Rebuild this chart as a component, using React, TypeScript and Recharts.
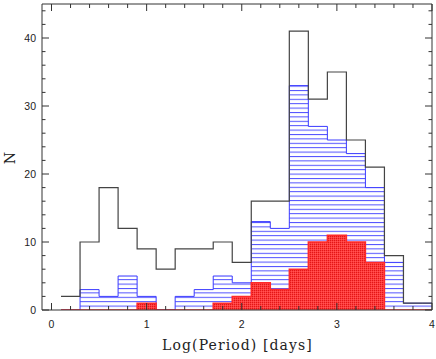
import React from 'react';
import { ComposedChart, Area, XAxis, YAxis, Customized } from 'recharts';

// bin edges in Log(Period), bins are 0.2 dex wide
const binEdges = [0.1, 0.3, 0.5, 0.7, 0.9, 1.1, 1.3, 1.5, 1.7, 1.9, 2.1, 2.3, 2.5, 2.7, 2.9, 3.1, 3.3, 3.5, 3.7, 3.9, 4.1];
const allCounts = [2, 10, 18, 12, 9, 6, 9, 9, 10, 7, 16, 16, 41, 31, 35, 25, 21, 8, 1, 1];
const blueCounts = [0, 3, 2, 5, 2, 0, 2, 3, 5, 4, 13, 12, 33, 27, 25, 23, 18, 7, 1, 1];
const redCounts = [0, 0, 0, 0, 1, 0, 0, 0, 1, 2, 4, 3, 6, 10, 11, 10, 7, 0, 0, 0];

const xTicks = [0, 0.2, 0.4, 0.6, 0.8, 1, 1.2, 1.4, 1.6, 1.8, 2, 2.2, 2.4, 2.6, 2.8, 3, 3.2, 3.4, 3.6, 3.8, 4];
const yTicks = [0, 2, 4, 6, 8, 10, 12, 14, 16, 18, 20, 22, 24, 26, 28, 30, 32, 34, 36, 38, 40, 42, 44];

const n = allCounts.length;
const data = binEdges.map((x, i) => {
  const k = Math.min(i, n - 1);
  return { x, all: allCounts[k], blue: blueCounts[k], red: redCounts[k] };
});

const AXIS = '#333';
const isMajor = (v: number, step: number) => Math.abs(v / step - Math.round(v / step)) < 1e-6;
const tickFont = { fontFamily: 'Liberation Sans, Arial, sans-serif', fontSize: 10.5, fill: '#222' };

const BottomTick = (props: any) => {
  const { x, y, payload } = props;
  const major = isMajor(payload.value, 1);
  return (
    <g>
      <line x1={x} x2={x} y1={y} y2={y - (major ? 7 : 4)} stroke={AXIS} />
      {major && (
        <text x={x} y={y + 18} textAnchor="middle" {...tickFont}>
          {Math.round(payload.value)}
        </text>
      )}
    </g>
  );
};

const TopTick = (props: any) => {
  const { x, y, payload } = props;
  const major = isMajor(payload.value, 1);
  return <line x1={x} x2={x} y1={y} y2={y + (major ? 7 : 4)} stroke={AXIS} />;
};

const LeftTick = (props: any) => {
  const { x, y, payload } = props;
  const major = isMajor(payload.value, 10);
  return (
    <g>
      <line x1={x} x2={x + (major ? 7 : 3.5)} y1={y} y2={y} stroke={AXIS} />
      {major && (
        <text x={x - 6} y={y} dy="0.36em" textAnchor="end" {...tickFont}>
          {payload.value}
        </text>
      )}
    </g>
  );
};

const RightTick = (props: any) => {
  const { x, y, payload } = props;
  const major = isMajor(payload.value, 10);
  return <line x1={x} x2={x - (major ? 7 : 3.5)} y1={y} y2={y} stroke={AXIS} />;
};

const Titles = () => (
  <g fontFamily="DejaVu Serif, Liberation Serif, serif" fill="#222">
    <text x={237.5} y={350} textAnchor="middle" fontSize={14} letterSpacing={1.1}>
      Log(Period) [days]
    </text>
    <text x={15} y={158} textAnchor="middle" fontSize={14} transform="rotate(-90 15 158)">
      N
    </text>
  </g>
);

export default function App() {
  return (
    <div style={{ position: 'absolute', left: 0, top: 0, width: 436, height: 359, background: '#fff' }}>
      <ComposedChart width={436} height={359} data={data} margin={{ top: 3, right: 3, bottom: 48, left: 41 }}>
        <defs>
          <pattern id="hatchBlue" patternUnits="userSpaceOnUse" width={8} height={4.4} y={310}>
            <line x1={0} x2={8} y1={0.5} y2={0.5} stroke="#4d4dff" strokeWidth={1} />
          </pattern>
          <pattern id="crossRed" patternUnits="userSpaceOnUse" width={2} height={2}>
            <rect width={2} height={2} fill="#ff3a3a" />
            <rect width={1} height={1} fill="#e01818" />
            <rect x={1} y={1} width={1} height={1} fill="#ff5555" />
          </pattern>
        </defs>
        <XAxis
          dataKey="x"
          type="number"
          domain={[-0.1, 4]}
          allowDataOverflow
          ticks={xTicks}
          interval={0}
          height={1}
          tickSize={0}
          tickMargin={0}
          tickLine={false}
          tick={BottomTick}
          stroke={AXIS}
        />
        <XAxis
          xAxisId="top"
          orientation="top"
          dataKey="x"
          type="number"
          domain={[-0.1, 4]}
          allowDataOverflow
          ticks={xTicks}
          interval={0}
          height={1}
          tickSize={0}
          tickMargin={0}
          tickLine={false}
          tick={TopTick}
          stroke={AXIS}
        />
        <YAxis
          type="number"
          domain={[0, 45]}
          allowDataOverflow
          ticks={yTicks}
          interval={0}
          width={1}
          tickSize={0}
          tickMargin={0}
          tickLine={false}
          tick={LeftTick}
          stroke={AXIS}
        />
        <YAxis
          yAxisId="right"
          orientation="right"
          type="number"
          domain={[0, 45]}
          allowDataOverflow
          ticks={yTicks}
          interval={0}
          width={1}
          tickSize={0}
          tickMargin={0}
          tickLine={false}
          tick={RightTick}
          stroke={AXIS}
        />
        <Area
          type="stepAfter"
          dataKey="blue"
          stroke="#3a3aff"
          strokeWidth={1}
          fill="url(#hatchBlue)"
          fillOpacity={1}
          dot={false}
          activeDot={false}
          isAnimationActive={false}
        />
        <Area
          type="stepAfter"
          dataKey="all"
          stroke="#444"
          strokeWidth={1.2}
          fill="none"
          dot={false}
          activeDot={false}
          isAnimationActive={false}
        />
        <Area
          type="stepAfter"
          dataKey="red"
          stroke="#ff2a2a"
          strokeWidth={1.5}
          fill="url(#crossRed)"
          fillOpacity={1}
          dot={false}
          activeDot={false}
          isAnimationActive={false}
        />
        <Customized component={Titles} />
      </ComposedChart>
    </div>
  );
}
